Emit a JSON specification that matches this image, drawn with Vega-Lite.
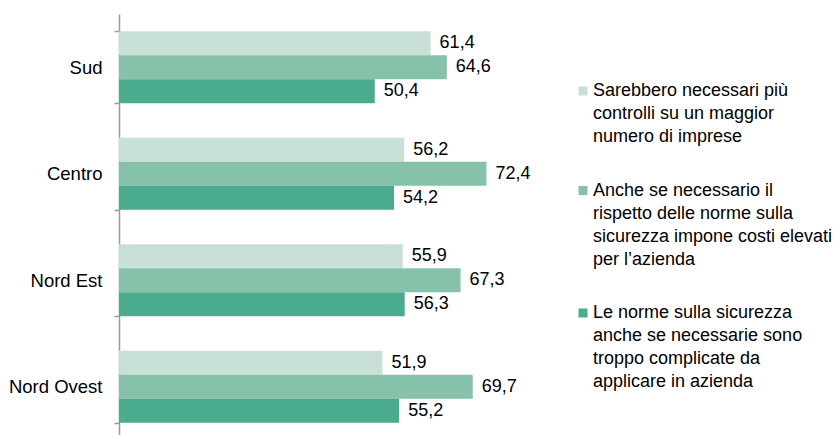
{
  "$schema": "https://vega.github.io/schema/vega-lite/v6.json",
  "autosize": "none",
  "width": 406,
  "height": 421,
  "padding": {"left": 119, "top": 14, "right": 308, "bottom": 0},
  "background": "white",
  "config": {
    "view": {"stroke": null},
    "font": "Liberation Sans",
    "locale": {"number": {"decimal": ",", "thousands": ".", "grouping": [3], "currency": ["€", ""]}}
  },
  "data": {
    "values": [
      {"region": "Sud", "series": "Sarebbero necessari più controlli su un maggior numero di imprese", "value": 61.4},
      {"region": "Sud", "series": "Anche se necessario il rispetto delle norme sulla sicurezza impone costi elevati per l’azienda", "value": 64.6},
      {"region": "Sud", "series": "Le norme sulla sicurezza anche se necessarie sono troppo complicate da applicare in azienda", "value": 50.4},
      {"region": "Centro", "series": "Sarebbero necessari più controlli su un maggior numero di imprese", "value": 56.2},
      {"region": "Centro", "series": "Anche se necessario il rispetto delle norme sulla sicurezza impone costi elevati per l’azienda", "value": 72.4},
      {"region": "Centro", "series": "Le norme sulla sicurezza anche se necessarie sono troppo complicate da applicare in azienda", "value": 54.2},
      {"region": "Nord Est", "series": "Sarebbero necessari più controlli su un maggior numero di imprese", "value": 55.9},
      {"region": "Nord Est", "series": "Anche se necessario il rispetto delle norme sulla sicurezza impone costi elevati per l’azienda", "value": 67.3},
      {"region": "Nord Est", "series": "Le norme sulla sicurezza anche se necessarie sono troppo complicate da applicare in azienda", "value": 56.3},
      {"region": "Nord Ovest", "series": "Sarebbero necessari più controlli su un maggior numero di imprese", "value": 51.9},
      {"region": "Nord Ovest", "series": "Anche se necessario il rispetto delle norme sulla sicurezza impone costi elevati per l’azienda", "value": 69.7},
      {"region": "Nord Ovest", "series": "Le norme sulla sicurezza anche se necessarie sono troppo complicate da applicare in azienda", "value": 55.2}
    ]
  },
  "encoding": {
    "y": {
      "field": "region",
      "type": "nominal",
      "sort": ["Sud", "Centro", "Nord Est", "Nord Ovest"],
      "scale": {"range": [0, 426], "paddingInner": 0.324, "paddingOuter": 0.162},
      "axis": {
        "title": null,
        "tickBand": "extent",
        "domainColor": "#9a9a9a",
        "domainWidth": 1.5,
        "tickColor": "#9a9a9a",
        "tickWidth": 1.5,
        "tickSize": 5,
        "labelFontSize": 18.5,
        "labelColor": "#000000",
        "labelPadding": 12
      }
    },
    "yOffset": {
      "field": "series",
      "type": "nominal",
      "sort": [
        "Sarebbero necessari più controlli su un maggior numero di imprese",
        "Anche se necessario il rispetto delle norme sulla sicurezza impone costi elevati per l’azienda",
        "Le norme sulla sicurezza anche se necessarie sono troppo complicate da applicare in azienda"
      ],
      "scale": {"paddingInner": 0, "paddingOuter": 0}
    },
    "x": {"field": "value", "type": "quantitative", "scale": {"domain": [0, 80]}, "axis": null}
  },
  "layer": [
    {
      "mark": {"type": "bar"},
      "encoding": {
        "color": {
          "field": "series",
          "type": "nominal",
          "sort": [
            "Sarebbero necessari più controlli su un maggior numero di imprese",
            "Anche se necessario il rispetto delle norme sulla sicurezza impone costi elevati per l’azienda",
            "Le norme sulla sicurezza anche se necessarie sono troppo complicate da applicare in azienda"
          ],
          "scale": {"range": ["#c8e0d6", "#86c1a9", "#4aac8e"]},
          "legend": {
            "title": null,
            "orient": "none",
            "legendX": 455,
            "legendY": 68,
            "padding": 0,
            "symbolType": "square",
            "symbolSize": 81,
            "symbolStrokeWidth": 0,
            "symbolOpacity": 1,
            "labelFontSize": 18,
            "labelColor": "#000000",
            "labelLimit": 400,
            "labelOffset": 1,
            "labelBaseline": "middle",
            "rowPadding": 35.5,
            "encode": {"labels": {"update": {"lineHeight": {"value": 23}}}},
            "labelExpr": "datum.label == 'Sarebbero necessari più controlli su un maggior numero di imprese' ? ['Sarebbero necessari più', 'controlli su un maggior', 'numero di imprese'] : datum.label == 'Anche se necessario il rispetto delle norme sulla sicurezza impone costi elevati per l’azienda' ? ['Anche se necessario il', 'rispetto delle norme sulla', 'sicurezza impone costi elevati', 'per l’azienda'] : ['Le norme sulla sicurezza', 'anche se necessarie sono', 'troppo complicate da', 'applicare in azienda']"
          }
        }
      }
    },
    {
      "mark": {"type": "text", "align": "left", "baseline": "middle", "dx": 9, "fontSize": 18, "color": "#000000"},
      "encoding": {"text": {"field": "value", "type": "quantitative", "format": ".1f"}}
    }
  ]
}
